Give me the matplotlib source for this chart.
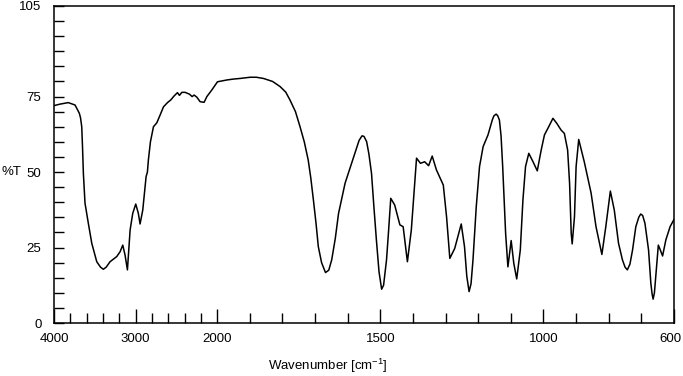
import numpy as np
import matplotlib
matplotlib.use("Agg")
import matplotlib.pyplot as plt
from matplotlib.ticker import FixedLocator, NullFormatter
from matplotlib.transforms import ScaledTranslation

plt.rcParams['font.family'] = ['Liberation Sans', 'DejaVu Sans']
plt.rcParams['mathtext.fontset'] = 'custom'
plt.rcParams['mathtext.rm'] = 'Liberation Sans'
plt.rcParams['mathtext.it'] = 'Liberation Sans'

wavenumber = [4000, 3926, 3825, 3742, 3690, 3675, 3660, 3650, 3640, 3620, 3579, 3537, 3476, 3430,
              3395, 3360, 3313, 3231, 3190, 3157, 3129, 3100, 3067, 3035, 2998, 2966, 2945, 2912,
              2883, 2871, 2855, 2843, 2818, 2781, 2740, 2699, 2658, 2609, 2568, 2528, 2487, 2462,
              2433, 2393, 2340, 2307, 2282, 2249, 2209, 2160, 2126, 2065, 1999, 1970, 1950, 1930,
              1899, 1880, 1858, 1830, 1807, 1790, 1777, 1760, 1746, 1733, 1721, 1713, 1705, 1697,
              1690, 1680, 1668, 1658, 1649, 1638, 1628, 1608, 1578, 1565, 1556, 1550, 1542, 1535,
              1527, 1520, 1512, 1504, 1496, 1490, 1481, 1475, 1468, 1456, 1440, 1430, 1417, 1405,
              1389, 1377, 1364, 1352, 1341, 1328, 1307, 1297, 1287, 1272, 1252, 1242, 1235, 1228,
              1222, 1216, 1206, 1196, 1185, 1170, 1157, 1152, 1145, 1140, 1135, 1130, 1125, 1116,
              1109, 1099, 1091, 1082, 1071, 1063, 1055, 1045, 1032, 1019, 1007, 997, 984, 971, 959,
              946, 936, 926, 920, 915, 912, 905, 900, 892, 875, 854, 839, 821, 809, 795, 783, 770,
              758, 750, 743, 735, 727, 717, 708, 702, 696, 689, 678, 671, 667, 664, 660, 655, 648,
              642, 635, 625, 612, 600]
transmittance = [72.0, 72.5, 73.0, 72.2, 69.5, 68.0, 65.0, 58.0, 49.6, 39.7, 33.0, 26.4, 20.3, 18.5,
                 17.8, 18.5, 20.3, 22.0, 23.6, 25.8, 22.5, 17.6, 30.8, 36.3, 39.4, 36.3, 32.8, 37.4,
                 45.5, 48.5, 50.0, 54.0, 60.0, 65.0, 66.3, 68.9, 71.6, 73.0, 73.9, 75.2, 76.3, 75.4,
                 76.4, 76.4, 75.8, 75.0, 75.5, 74.8, 73.3, 73.1, 75.0, 77.2, 79.9, 80.5, 80.8, 81.0,
                 81.4, 81.4, 81.0, 80.0, 78.3, 76.5, 73.9, 70.0, 65.0, 60.0, 54.0, 48.0, 40.7, 33.0,
                 25.3, 20.0, 16.7, 17.5, 20.9, 28.0, 36.3, 46.3, 56.2, 60.5, 62.0, 61.8, 60.1, 56.0,
                 49.6, 39.0, 27.5, 17.0, 11.2, 12.5, 20.9, 30.0, 41.3, 39.1, 32.5, 31.9, 20.3, 30.8,
                 54.6, 52.9, 53.4, 52.1, 55.3, 50.7, 45.7, 35.2, 21.4, 24.7, 32.8, 25.3, 15.5, 10.4,
                 13.0, 20.9, 38.5, 51.8, 58.4, 62.3, 67.2, 68.6, 69.2, 68.6, 67.2, 62.0, 51.8, 29.7,
                 18.6, 27.3, 19.8, 14.6, 24.2, 40.7, 51.8, 56.2, 53.4, 50.4, 57.3, 62.3, 65.0, 67.8, 66.1,
                 63.9, 62.8, 57.3, 46.3, 29.7, 26.2, 35.2, 51.8, 60.8, 53.4, 43.0, 31.9, 22.7, 31.9,
                 43.7, 37.4, 26.4, 20.9, 18.5, 17.6, 19.5, 24.2, 31.9, 35.0, 36.1, 35.6, 33.0, 24.2,
                 13.2, 9.5, 7.9, 10.0, 16.5, 25.8, 24.2, 22.2, 27.5, 31.9, 34.3]

x_major = [4000, 3000, 2000, 1500, 1000, 600]
x_major_labels = ['4000', '3000', '2000', '1500', '1000', '600']
x_minor = [3800, 3600, 3400, 3200, 2800, 2600, 2400, 2200,
           1900, 1800, 1700, 1600, 1400, 1300, 1200, 1100, 900, 800, 700]
y_major = [0, 25, 50, 75, 105]
y_minor = [v for v in range(5, 105, 5) if v not in (25, 50, 75)]


def fwd(x):
    x = np.asarray(x, dtype=float)
    return np.where(x <= 2000, x, 2000 + (x - 2000) / 4.0)


def inv(u):
    u = np.asarray(u, dtype=float)
    return np.where(u <= 2000, u, 2000 + (u - 2000) * 4.0)


fig = plt.figure(figsize=(6.83, 3.76), dpi=100)
ax = fig.add_axes([54 / 683, 53 / 376, 620 / 683, 317 / 376])
ax.set_xscale('function', functions=(fwd, inv))
ax.plot(wavenumber, transmittance, color='black', lw=1.1, solid_joinstyle='round')
ax.set_xlim(4000, 600)
ax.set_ylim(0, 105)

ax.xaxis.set_major_locator(FixedLocator(x_major))
ax.set_xticklabels(x_major_labels)
ax.xaxis.set_minor_locator(FixedLocator(x_minor))
ax.xaxis.set_minor_formatter(NullFormatter())
ax.yaxis.set_major_locator(FixedLocator(y_major))
ax.yaxis.set_minor_locator(FixedLocator(y_minor))
ax.yaxis.set_minor_formatter(NullFormatter())

ax.tick_params(axis='x', which='major', direction='in', length=10, width=1, labelsize=9.5, pad=7)
ax.tick_params(axis='x', which='minor', direction='in', length=7, width=1)
ax.tick_params(axis='y', which='both', direction='in', length=7, width=1, labelsize=9.5, pad=9)
for s in ax.spines.values():
    s.set_linewidth(1.1)

last = ax.get_xticklabels()[-1]
last.set_transform(last.get_transform() + ScaledTranslation(-4 / 100, 0, fig.dpi_scale_trans))

fig.text(2 / 683, 1 - 172 / 376, '%T', fontsize=9.5, ha='left', va='center')
fig.text(328 / 683, 1 - 366 / 376, 'Wavenumber [cm$^{-1}$]', fontsize=9.5, ha='center', va='center')

fig.savefig('out.png', dpi=100)
